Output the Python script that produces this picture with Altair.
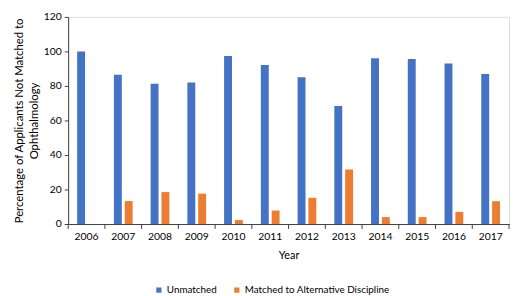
import altair as alt
import pandas as pd

years = ["2006", "2007", "2008", "2009", "2010", "2011", "2012", "2013", "2014", "2015", "2016", "2017"]
unmatched = [100, 86.5, 81.3, 82.0, 97.4, 92.2, 85.0, 68.4, 96.0, 95.6, 93.0, 86.9]
matched_alt = [0, 13.3, 18.5, 17.6, 2.3, 7.8, 15.2, 31.6, 4.0, 4.0, 7.0, 13.2]
series = ["Unmatched", "Matched to Alternative Discipline"]
colors = ["#4472C4", "#ED7D31"]

rows = []
for y, u, m in zip(years, unmatched, matched_alt):
    rows.append({"year": y, "series": series[0], "value": u})
    rows.append({"year": y, "series": series[1], "value": m})
df = pd.DataFrame(rows)
ticks_df = pd.DataFrame({"year": years})
last_df = pd.DataFrame({"year": [years[-1]]})

FONT = "Lato"
AX = "#404040"
W, H = 447, 210

x_scale = alt.Scale(domain=years, paddingInner=0, paddingOuter=0)

bars = alt.Chart(df).mark_bar().encode(
    x=alt.X("year:N", scale=x_scale, sort=years,
            axis=alt.Axis(title="Year", labelAngle=0, ticks=False, labelPadding=8,
                          titlePadding=7, domainColor=AX, labelColor="#000",
                          labelFontSize=10.5, titleFontSize=11, titleFontWeight="normal",
                          labelFont=FONT, titleFont=FONT, titleColor="#000")),
    xOffset=alt.XOffset("series:N", sort=series,
                        scale=alt.Scale(domain=series, paddingInner=0.27, paddingOuter=0.83)),
    y=alt.Y("value:Q", scale=alt.Scale(domain=[0, 120]),
            axis=alt.Axis(values=[0, 20, 40, 60, 80, 100, 120], grid=False, tickSize=4,
                          tickColor=AX, domainColor=AX, labelColor="#000", labelPadding=3,
                          labelFontSize=10.5, labelFont=FONT,
                          title=["Percentage of Applicants Not Matched to", "Ophthalmology"],
                          titleFont=FONT, titleFontSize=11.5, titleFontWeight="normal",
                          titleColor="#000", titleLineHeight=15, titlePadding=4)),
    color=alt.Color("series:N", sort=series,
                    scale=alt.Scale(domain=series, range=colors),
                    legend=alt.Legend(title=None, orient="none", direction="horizontal",
                                      legendX=87, legendY=272, symbolType="square",
                                      symbolSize=28, symbolStrokeWidth=0, columnPadding=15,
                                      labelFont=FONT, labelFontSize=10, labelColor="#000",
                                      labelOffset=3)),
)

tick_rules = alt.Chart(ticks_df).mark_rule(color=AX, strokeWidth=1).encode(
    x=alt.X("year:N", scale=x_scale, sort=years, bandPosition=0),
    y=alt.value(H),
    y2=alt.value(H + 5),
)
end_rule = alt.Chart(last_df).mark_rule(color=AX, strokeWidth=1).encode(
    x=alt.X("year:N", scale=x_scale, sort=years, bandPosition=1),
    y=alt.value(H),
    y2=alt.value(H + 5),
)

chart = alt.layer(bars, tick_rules, end_rule).properties(
    width=W, height=H,
    autosize=alt.AutoSizeParams(type="none"),
    padding={"left": 61, "top": 7, "right": 1, "bottom": 73},
).configure_view(stroke=None).configure(background="white")

chart.save("out.html", embed_options={"renderer": "svg", "actions": False})
